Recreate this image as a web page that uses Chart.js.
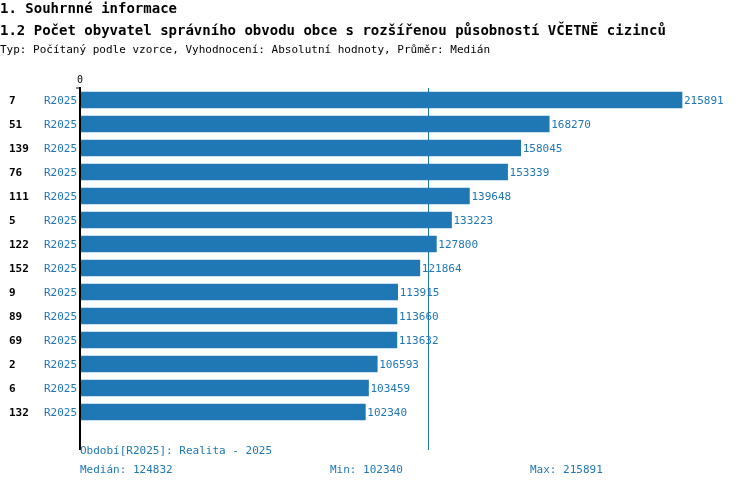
<!DOCTYPE html>
<html>
<head>
<meta charset="utf-8">
<script src="https://cdn.jsdelivr.net/npm/chart.js@4"></script>
<style>
  html, body { margin: 0; padding: 0; background: #fff; }
  #wrap { width: 750px; height: 488px; position: relative; }
</style>
</head>
<body>
<div id="wrap"><canvas id="chart" width="750" height="488"></canvas></div>
<script>
const categories = ["7", "51", "139", "76", "111", "5", "122", "152", "9", "89", "69", "2", "6", "132"];
const periods = ["R2025", "R2025", "R2025", "R2025", "R2025", "R2025", "R2025", "R2025", "R2025", "R2025", "R2025", "R2025", "R2025", "R2025"];
const values = [215891, 168270, 158045, 153339, 139648, 133223, 127800, 121864, 113915, 113660, 113632, 106593, 103459, 102340];
const median = 124832;

const FONT = '"DejaVu Sans Mono", "Liberation Mono", monospace';
const BLUE = "#1f77b4";

const labelsPlugin = {
  id: "rowLabels",
  afterDraw(chart) {
    const ctx = chart.ctx;
    const xs = chart.scales.x;
    const ys = chart.scales.y;
    const area = chart.chartArea;
    ctx.save();

    // titles
    ctx.fillStyle = "#000";
    ctx.textBaseline = "middle";
    ctx.textAlign = "left";
    ctx.font = `bold 14px ${FONT}`;
    ctx.fillText("1. Souhrnné informace", 0, 9);
    ctx.fillText("1.2 Počet obyvatel správního obvodu obce s rozšířenou působností VČETNĚ cizinců", 0, 31);
    ctx.font = `11px ${FONT}`;
    ctx.fillText("Typ: Počítaný podle vzorce, Vyhodnocení: Absolutní hodnoty, Průměr: Medián", 0, 50);

    // axis + median line
    const x0 = xs.getPixelForValue(0);
    ctx.strokeStyle = "#000";
    ctx.lineWidth = 2;
    ctx.beginPath();
    ctx.moveTo(x0, area.top - 1);
    ctx.lineTo(x0, 450);
    ctx.stroke();
    ctx.lineWidth = 1;
    ctx.beginPath();
    ctx.moveTo(x0 - 4, area.top);
    ctx.lineTo(x0, area.top);
    ctx.stroke();
    const xm = Math.round(xs.getPixelForValue(median)) + 0.5;
    ctx.strokeStyle = BLUE;
    ctx.beginPath();
    ctx.moveTo(xm, area.top);
    ctx.lineTo(xm, 450);
    ctx.stroke();
    ctx.fillStyle = "#000";
    ctx.textAlign = "center";
    ctx.font = `10px ${FONT}`;
    ctx.fillText("0", x0, 80);

    categories.forEach((cat, i) => {
      const y = ys.getPixelForValue(i);
      ctx.textAlign = "left";
      ctx.fillStyle = "#000";
      ctx.font = `bold 11px ${FONT}`;
      ctx.fillText(cat, 9, y + 1);
      ctx.textAlign = "right";
      ctx.fillStyle = BLUE;
      ctx.font = `11px ${FONT}`;
      ctx.fillText(periods[i], x0 - 3, y + 1);
      ctx.textAlign = "left";
      ctx.fillText(String(values[i]), xs.getPixelForValue(values[i]) + 2, y + 1);
    });

    // footer
    ctx.fillStyle = BLUE;
    ctx.textAlign = "left";
    ctx.fillText("Období[R2025]: Realita - 2025", 80, 451);
    ctx.fillText("Medián: " + median, 80, 470);
    ctx.fillText("Min: " + Math.min(...values), 330, 470);
    ctx.fillText("Max: " + Math.max(...values), 530, 470);
    ctx.restore();
  },
};

new Chart(document.getElementById("chart").getContext("2d"), {
  type: "bar",
  data: {
    labels: categories,
    datasets: [{
      data: values,
      backgroundColor: BLUE,
      borderWidth: 0,
      barThickness: 16,
    }],
  },
  options: {
    indexAxis: "y",
    responsive: false,
    animation: false,
    layout: { padding: { top: 88, left: 80, right: 10, bottom: 64 } },
    plugins: { legend: { display: false }, tooltip: { enabled: false } },
    scales: {
      x: { min: 0, max: Math.round(Math.max(...values) * 660 / 602), display: false },
      y: { display: false },
    },
  },
  plugins: [labelsPlugin],
});
</script>
</body>
</html>
